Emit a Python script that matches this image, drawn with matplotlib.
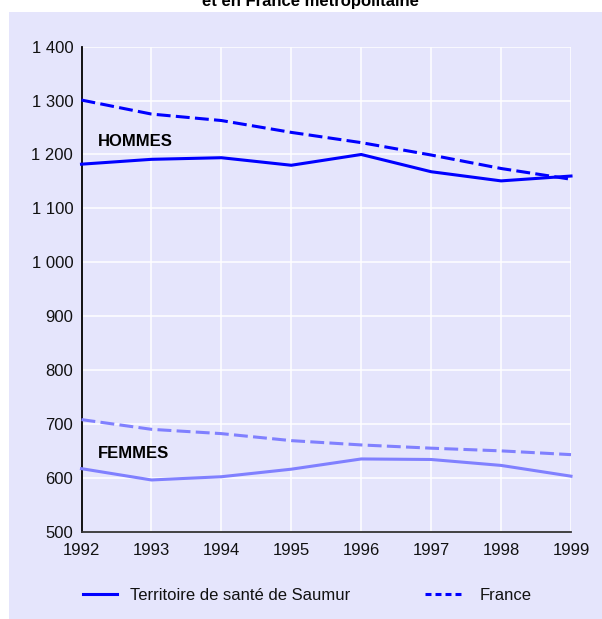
import matplotlib
matplotlib.use("Agg")
import matplotlib.pyplot as plt
from matplotlib.lines import Line2D
from matplotlib.patches import Rectangle

plt.rcParams['font.family'] = ['Liberation Sans', 'DejaVu Sans']
plt.rcParams['lines.scale_dashes'] = False

years = [1992, 1993, 1994, 1995, 1996, 1997, 1998, 1999]
hommes_saumur = [1182, 1191, 1194, 1180, 1200, 1168, 1151, 1160]
hommes_france = [1301, 1275, 1263, 1241, 1222, 1199, 1174, 1154]
femmes_saumur = [617, 596, 602, 616, 635, 634, 623, 603]
femmes_france = [708, 690, 682, 669, 661, 655, 650, 643]
y_ticks = [500, 600, 700, 800, 900, 1000, 1100, 1200, 1300, 1400]
y_tick_labels = ["500", "600", "700", "800", "900", "1 000", "1 100", "1 200", "1 300", "1 400"]
title_text = "et en France métropolitaine"
legend_labels = ["Territoire de santé de Saumur", "France"]

bg = '#E5E5FC'
c_h = '#0000FF'
c_f = '#8080FF'

W, H = 602, 619
fig = plt.figure(figsize=(W / 100, H / 100), dpi=100, facecolor='white')

panel = Rectangle((8.7 / W, 0), 1 - 8.7 / W, 1 - 12 / H,
                  transform=fig.transFigure, facecolor=bg,
                  edgecolor='none', zorder=-10)
fig.patches.append(panel)

left, right = 81.5 / W, 571 / W
bottom, top = (H - 531.7) / H, (H - 46.7) / H
ax = fig.add_axes([left, bottom, right - left, top - bottom])
ax.set_zorder(1)
ax.set_facecolor(bg)

ax.set_xlim(1992, 1999)
ax.set_ylim(500, 1400)
ax.set_xticks(years)
ax.set_xticklabels([str(y) for y in years])
ax.set_yticks(y_ticks)
ax.set_yticklabels(y_tick_labels)
ax.tick_params(axis='both', length=0, labelsize=12, colors='#111111')
ax.tick_params(axis='x', pad=8)
ax.tick_params(axis='y', pad=6)
ax.grid(True, color='white', linewidth=1.1)
ax.set_axisbelow(True)
for s in ['top', 'right']:
    ax.spines[s].set_visible(False)
ax.spines['left'].set_color('black')
ax.spines['left'].set_linewidth(1.3)
ax.spines['bottom'].set_color('#333333')
ax.spines['bottom'].set_linewidth(1.3)

lw = 2.2
dash = (0, (10, 3.8))
ax.plot(years, hommes_saumur, color=c_h, lw=lw, clip_on=False, zorder=3)
ax.plot(years, hommes_france, color=c_h, lw=lw, linestyle=dash, clip_on=False, zorder=3)
ax.plot(years, femmes_saumur, color=c_f, lw=lw, clip_on=False, zorder=3)
ax.plot(years, femmes_france, color=c_f, lw=lw, linestyle=dash, clip_on=False, zorder=3)

ax.text(97.5 / W, (H - 146) / H, "HOMMES", transform=fig.transFigure,
        fontsize=12, fontweight='bold', va='baseline', ha='left')
ax.text(97.5 / W, (H - 457.5) / H, "FEMMES", transform=fig.transFigure,
        fontsize=12, fontweight='bold', va='baseline', ha='left')

fig.text(310 / W, 1 - 6 / H, title_text, fontsize=12, fontweight='bold',
         ha='center', va='baseline')

h1 = Line2D([], [], color=c_h, lw=lw)
h2 = Line2D([], [], color=c_h, lw=lw, linestyle=(0, (4.3, 2.9)))
leg1 = fig.legend([h1], [legend_labels[0]], loc='center left',
                  bbox_to_anchor=(83 / W, (H - 595) / H), frameon=False,
                  fontsize=12, borderpad=0, borderaxespad=0,
                  handlelength=2.05, handletextpad=0.8)
leg2 = fig.legend([h2], [legend_labels[1]], loc='center left',
                  bbox_to_anchor=(425 / W, (H - 595) / H), frameon=False,
                  fontsize=12, borderpad=0, borderaxespad=0,
                  handlelength=2.15, handletextpad=1.1)
for t in leg1.get_texts() + leg2.get_texts():
    t.set_color('#111111')

fig.savefig('out.png', dpi=100, facecolor='white')
